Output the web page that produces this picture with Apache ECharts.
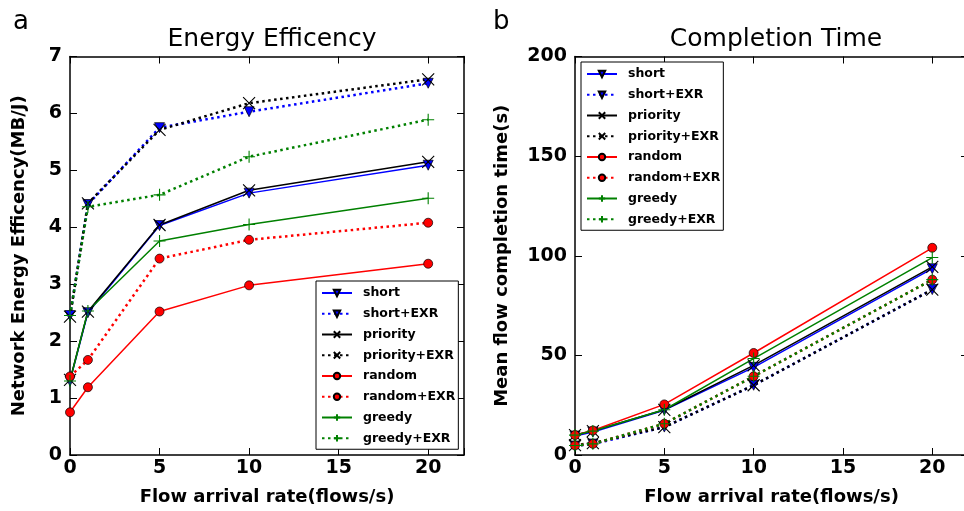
<!DOCTYPE html>
<html>
<head>
<meta charset="utf-8">
<script src="https://cdn.jsdelivr.net/npm/echarts@6/dist/echarts.min.js"></script>
<style>
  html, body { margin: 0; padding: 0; background: #fff; }
  #chart { width: 964px; height: 511px; }
</style>
</head>
<body>
<div id="chart"></div>
<script>
// arrival rates (flows/s)
const rates = [0, 1, 5, 10, 20]
const names = ['short', 'short+EXR', 'priority', 'priority+EXR', 'random', 'random+EXR', 'greedy', 'greedy+EXR']

// a: network energy efficiency (MB/J)
const effShort = [1.30, 2.50, 4.03, 4.60, 5.09]
const effShortExr = [2.45, 4.40, 5.75, 6.03, 6.53]
const effPriority = [1.32, 2.52, 4.04, 4.65, 5.15]
const effPriorityExr = [2.43, 4.42, 5.71, 6.18, 6.60]
const effRandom = [0.75, 1.19, 2.52, 2.98, 3.36]
const effRandomExr = [1.38, 1.67, 3.45, 3.78, 4.08]
const effGreedy = [1.30, 2.53, 3.76, 4.05, 4.51]
const effGreedyExr = [2.45, 4.36, 4.57, 5.24, 5.89]

// b: mean flow completion time (s)
const fctShort = [9.5, 11.5, 22.5, 44.0, 93.5]
const fctShortExr = [4.5, 5.5, 14.0, 35.0, 83.0]
const fctPriority = [10.0, 12.0, 22.7, 45.0, 94.4]
const fctPriorityExr = [5.0, 6.0, 14.0, 35.0, 83.0]
const fctRandom = [10.0, 12.3, 25.4, 51.2, 104.0]
const fctRandomExr = [4.8, 5.6, 15.7, 39.5, 88.0]
const fctGreedy = [10.0, 12.0, 22.7, 48.4, 99.1]
const fctGreedyExr = [4.8, 5.6, 15.7, 39.5, 88.0]

const xTicks = [0, 5, 10, 15, 20]

const FONT = 'DejaVu Sans'
const X_PATH = 'path://M0,0L10,10M10,0L0,10'
const PLUS_PATH = 'path://M5,0L5,10M0,5L10,5'

const styles = {
  'short': { color: '#0000ff', symbol: 'triangle', rotate: 180, size: 10, dotted: false },
  'short+EXR': { color: '#0000ff', symbol: 'triangle', rotate: 180, size: 10, dotted: true },
  'priority': { color: '#000000', symbol: X_PATH, size: 12, dotted: false, stroke: true },
  'priority+EXR': { color: '#000000', symbol: X_PATH, size: 12, dotted: true, stroke: true },
  'random': { color: '#ff0000', symbol: 'circle', size: 9, dotted: false },
  'random+EXR': { color: '#ff0000', symbol: 'circle', size: 9, dotted: true },
  'greedy': { color: '#008000', symbol: PLUS_PATH, size: 12, dotted: false, stroke: true },
  'greedy+EXR': { color: '#008000', symbol: PLUS_PATH, size: 12, dotted: true, stroke: true }
}

function makeSeries(name, values, axisIdx) {
  const s = styles[name]
  return {
    name,
    type: 'line',
    xAxisIndex: axisIdx,
    yAxisIndex: axisIdx,
    data: rates.map((r, i) => [r, values[i]]),
    symbol: s.symbol,
    symbolRotate: s.rotate || 0,
    symbolSize: s.size,
    showAllSymbol: true,
    lineStyle: { color: s.color, width: s.dotted ? 2.5 : 1.5, type: s.dotted ? [2.5, 3.5] : 'solid' },
    itemStyle: s.stroke
      ? { color: s.color, borderColor: s.color, borderWidth: 1.1 }
      : { color: s.color, borderColor: '#000', borderWidth: 0.7 },
    emphasis: { disabled: true }
  }
}

const tickLabel = { fontFamily: FONT, fontSize: 19, fontWeight: 'bold', color: '#000' }
const axisNameStyle = { fontFamily: FONT, fontSize: 18, fontWeight: 'bold', color: '#000' }
const frameLine = { show: true, onZero: false, lineStyle: { color: '#000', width: 1.5 } }
const inTick = { show: true, inside: true, length: 7, lineStyle: { color: '#000', width: 1 } }

function xAxes(grid) {
  return [
    {
      type: 'value', gridIndex: grid, position: 'bottom', min: 0, max: 22, interval: 5,
      axisLine: frameLine, axisTick: inTick, splitLine: { show: false },
      axisLabel: { ...tickLabel, margin: 4, formatter: (v) => (xTicks.includes(v) ? String(v) : '') },
      name: 'Flow arrival rate(flows/s)', nameLocation: 'middle', nameGap: 33,
      nameTextStyle: axisNameStyle
    },
    {
      type: 'value', gridIndex: grid, position: 'top', min: 0, max: 22, interval: 5,
      axisLine: frameLine, axisTick: inTick, splitLine: { show: false }, axisLabel: { show: false }
    }
  ]
}

function yAxes(grid, max, interval, name, gap) {
  return [
    {
      type: 'value', gridIndex: grid, position: 'left', min: 0, max, interval,
      axisLine: frameLine, axisTick: inTick, splitLine: { show: false },
      axisLabel: { ...tickLabel, margin: 8 },
      name, nameLocation: 'middle', nameGap: gap, nameTextStyle: axisNameStyle
    },
    {
      type: 'value', gridIndex: grid, position: 'right', min: 0, max, interval,
      axisLine: frameLine, axisTick: inTick, splitLine: { show: false }, axisLabel: { show: false }
    }
  ]
}

function legendAt(left, top) {
  return {
    data: names,
    orient: 'vertical',
    left, top,
    selectedMode: false,
    backgroundColor: '#fff',
    borderColor: '#000',
    borderWidth: 1,
    borderRadius: 0,
    padding: [5, 3, 4, 5],
    itemWidth: 30,
    itemHeight: 8,
    itemGap: 6.75,
    textStyle: { fontFamily: FONT, fontSize: 12.5, fontWeight: 'bold', color: '#000', lineHeight: 14, padding: [0, 0, 0, 6] }
  }
}

const chart = echarts.init(document.getElementById('chart'), null, { renderer: 'canvas' })
chart.setOption({
  animation: false,
  backgroundColor: '#fff',
  title: [
    { text: 'a', left: 8, top: 4, textStyle: { fontFamily: FONT, fontSize: 26, fontWeight: 'normal', color: '#000' } },
    { text: 'b', left: 488, top: 4, textStyle: { fontFamily: FONT, fontSize: 26, fontWeight: 'normal', color: '#000' } },
    { text: 'Energy Efficency', left: 267, top: 22, textAlign: 'center', textStyle: { fontFamily: FONT, fontSize: 25, fontWeight: 'normal', color: '#000' } },
    { text: 'Completion Time', left: 771, top: 22, textAlign: 'center', textStyle: { fontFamily: FONT, fontSize: 25, fontWeight: 'normal', color: '#000' } }
  ],
  grid: [
    { left: 70, top: 56.5, width: 394, height: 398.5, outerBoundsMode: 'none' },
    { left: 575, top: 56.5, width: 393, height: 398.5, outerBoundsMode: 'none' }
  ],
  xAxis: [...xAxes(0), ...xAxes(1)],
  yAxis: [
    ...yAxes(0, 7, 1, 'Network Energy Efficency(MB/J)', 42),
    ...yAxes(1, 200, 50, 'Mean flow completion time(s)', 64)
  ],
  legend: [legendAt(316, 281), legendAt(581, 62)],
  series: [
    makeSeries('short', effShort, 0),
    makeSeries('short+EXR', effShortExr, 0),
    makeSeries('priority', effPriority, 0),
    makeSeries('priority+EXR', effPriorityExr, 0),
    makeSeries('random', effRandom, 0),
    makeSeries('random+EXR', effRandomExr, 0),
    makeSeries('greedy', effGreedy, 0),
    makeSeries('greedy+EXR', effGreedyExr, 0),
    makeSeries('short', fctShort, 2),
    makeSeries('short+EXR', fctShortExr, 2),
    makeSeries('priority', fctPriority, 2),
    makeSeries('priority+EXR', fctPriorityExr, 2),
    makeSeries('random', fctRandom, 2),
    makeSeries('random+EXR', fctRandomExr, 2),
    makeSeries('greedy', fctGreedy, 2),
    makeSeries('greedy+EXR', fctGreedyExr, 2)
  ]
})
</script>
</body>
</html>
